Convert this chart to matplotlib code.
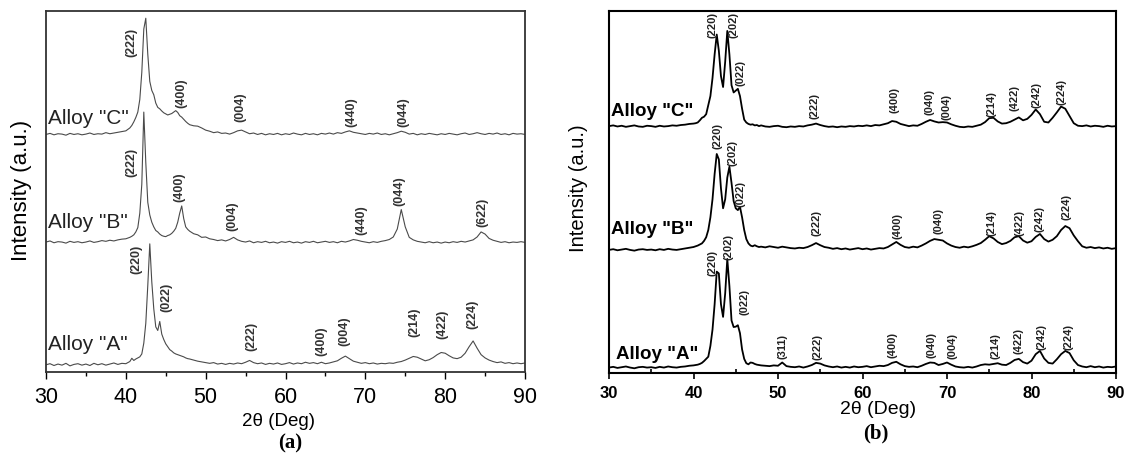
import numpy as np
import matplotlib
matplotlib.use("Agg")
import matplotlib.pyplot as plt
from matplotlib.ticker import MultipleLocator

plt.rcParams['font.family'] = ['Liberation Sans', 'DejaVu Sans']

# 2-theta sampling: 30-39.5 (0.5 step), 40-47.75 (0.25 step), 48-90 (0.5 step)
two_theta = np.concatenate([np.arange(30, 40, 0.5), np.arange(40, 48, 0.25), np.arange(48, 90.01, 0.5)])

# ---------------- panel (a): intensities, offset curves (a.u.) ----------------
a_alloy_c = [
    65.8, 66.1, 65.7, 66.0, 65.9, 65.6, 66.1, 65.8, 66.0, 65.7,
    65.9, 66.2, 65.8, 66.0, 65.9, 66.3, 66.0, 66.2, 66.4, 66.6,
    66.8, 67.2, 67.6, 68.3, 69.3, 70.5, 72.0, 75.5, 83.0, 95.0,
    98.0, 88.0, 80.5, 78.0, 76.8, 74.5, 73.3, 72.9, 72.3, 71.8,
    71.5, 71.2, 71.4, 71.6, 72.0, 72.4, 71.9, 71.0, 70.6, 70.0,
    69.4, 68.9,
    68.5, 68.2, 68.1, 67.6, 67.0, 66.7, 66.3, 66.5, 66.1, 66.2,
    65.9, 66.3, 66.8, 67.0, 66.5, 66.0, 66.2, 65.8, 66.1, 65.7,
    66.0, 65.8, 66.1, 65.7, 66.0, 65.8, 66.2, 65.9, 65.7, 66.1,
    65.8, 66.0, 65.7, 66.1, 65.9, 66.2, 65.9, 66.3, 66.1, 66.5,
    66.8, 66.4, 66.2, 66.0, 65.8, 66.1, 65.9, 66.2, 65.8, 66.0,
    65.7, 66.0, 66.3, 66.7, 66.4, 65.9, 66.1, 65.7, 66.0, 65.8,
    66.1, 65.9, 65.7, 66.0, 65.8, 66.1, 65.9, 65.7, 66.0, 66.2,
    65.8, 66.0, 66.3, 66.0, 65.8, 66.1, 65.9, 66.2, 65.8, 66.0,
    65.7, 66.1, 65.9, 66.0, 65.8,
]
a_alloy_b = [
    36.0, 36.3, 35.8, 36.1, 36.0, 35.7, 36.2, 35.9, 36.1, 35.8,
    36.0, 36.3, 35.9, 36.1, 36.4, 36.2, 36.5, 36.3, 36.6, 36.8,
    36.9, 37.1, 37.3, 37.6, 38.0, 38.8, 40.0, 44.0, 52.0, 72.0,
    58.0, 47.0, 43.5, 41.5, 40.2, 39.2, 38.8, 38.2, 37.8, 37.6,
    37.5, 37.8, 38.0, 38.4, 39.0, 39.8, 41.5, 44.0, 46.0, 42.5,
    40.2, 39.5,
    39.0, 38.3, 38.0, 37.3, 37.4, 36.9, 36.7, 36.4, 36.6, 36.3,
    36.7, 37.3, 36.6, 36.2, 36.0, 36.3, 35.8, 36.1, 35.9, 36.2,
    35.8, 36.0, 35.7, 36.1, 35.9, 36.2, 35.8, 36.0, 35.7, 36.1,
    35.9, 36.2, 35.8, 36.0, 36.2, 35.9, 36.1, 35.8, 36.2, 36.0,
    36.3, 36.7, 36.5, 36.2, 36.0, 35.8, 36.1, 35.9, 36.2, 36.4,
    36.7, 37.4, 39.6, 45.0, 40.2, 37.3, 36.6, 36.2, 36.0, 35.8,
    36.1, 35.8, 36.0, 35.7, 36.0, 35.8, 36.1, 35.9, 36.2, 36.0,
    36.3, 36.6, 37.4, 38.8, 38.2, 37.0, 36.5, 36.2, 35.9, 36.1,
    35.8, 36.0, 35.9, 36.1, 35.9,
]
a_alloy_a = [
    2.0, 2.3, 1.8, 2.2, 1.9, 2.4, 1.7, 2.1, 2.3, 1.9,
    2.2, 1.8, 2.4, 2.0, 2.3, 1.9, 2.2, 2.5, 2.1, 2.4,
    2.3, 2.6, 2.9, 3.8, 3.2, 3.6, 3.9, 4.2, 5.0, 8.0,
    13.5, 24.0, 35.5, 25.0, 17.5, 12.5, 11.5, 14.0, 10.5, 9.0,
    7.8, 7.0, 6.2, 5.8, 5.3, 5.0, 4.8, 4.6, 4.4, 4.2,
    3.9, 3.7,
    3.6, 3.3, 3.0, 2.8, 2.6, 2.4, 2.6, 2.2, 2.4, 2.1,
    2.4, 2.2, 2.5, 2.3, 2.7, 3.2, 2.6, 2.3, 2.5, 2.1,
    2.4, 2.2, 2.5, 2.1, 2.3, 2.6, 2.2, 2.5, 2.3, 2.7,
    2.4, 2.6, 2.3, 2.7, 2.3, 2.5, 2.8, 3.1, 3.8, 4.4,
    3.7, 3.0, 2.7, 2.4, 2.6, 2.3, 2.5, 2.2, 2.4, 2.3,
    2.5, 2.4, 2.7, 2.9, 3.3, 3.8, 4.3, 4.1, 3.6, 3.1,
    3.4, 4.0, 4.8, 5.4, 5.2, 4.5, 3.9, 3.7, 4.1, 5.2,
    7.0, 8.6, 6.6, 4.8, 3.9, 3.3, 2.9, 2.6, 2.8, 2.4,
    2.6, 2.3, 2.5, 2.3, 2.5,
]

# ---------------- panel (b) ----------------
b_alloy_c = [
    68.2, 68.4, 68.1, 68.3, 68.0, 68.2, 68.4, 68.1, 68.0, 68.3,
    68.2, 68.0, 68.3, 68.1, 68.2, 68.4, 68.3, 68.5, 68.6, 68.8,
    68.9, 69.0, 69.2, 69.8, 70.5, 70.8, 71.5, 74.0, 76.5, 81.5,
    88.0, 93.5, 89.0, 82.0, 79.0, 86.0, 94.5, 88.0, 79.5, 77.5,
    78.0, 78.5, 76.5, 73.0, 70.0, 69.2, 68.8, 68.6, 68.7, 68.4,
    68.5, 68.2,
    68.4, 68.1, 68.0, 68.2, 68.3, 68.0, 67.9, 68.1, 68.0, 68.2,
    68.1, 68.4, 68.6, 68.9, 68.5, 68.2, 68.0, 68.1, 67.9, 68.1,
    68.0, 68.2, 68.1, 68.3, 68.2, 68.4, 68.2, 68.5, 68.4, 68.7,
    69.0, 69.6, 69.4, 68.8, 68.5, 68.2, 68.4, 68.3, 68.8, 69.4,
    69.9, 69.5, 69.2, 69.3, 69.2, 68.7, 68.3, 68.0, 67.9, 68.1,
    68.0, 68.3, 68.6, 69.3, 70.4, 70.5, 69.5, 68.9, 69.0, 69.4,
    70.0, 70.6, 69.8, 70.2, 71.3, 72.8, 71.5, 69.4, 69.2, 70.5,
    72.0, 73.6, 73.0, 71.0, 69.0, 68.3, 68.2, 68.4, 68.1, 68.3,
    68.2, 68.0, 68.3, 68.1, 68.2,
]
b_alloy_b = [
    34.0, 34.2, 33.9, 34.1, 34.3, 34.0, 33.8, 34.1, 34.2, 34.0,
    34.1, 33.9, 34.2, 34.0, 34.3, 34.1, 34.0, 34.2, 34.4, 34.6,
    34.8, 35.0, 35.2, 35.5, 35.8, 36.5, 37.5, 39.5, 43.0, 48.0,
    55.0, 60.5, 59.0, 51.0, 45.5, 48.0, 54.0, 57.0, 52.5, 47.5,
    45.5, 45.0, 45.9, 43.0, 39.5, 37.0, 35.8, 35.2, 35.0, 35.3,
    35.0, 34.8,
    34.9, 34.7, 35.0, 34.8, 34.6, 34.9, 34.7, 34.5, 34.4, 34.6,
    34.5, 34.8, 35.3, 35.9, 35.3, 34.8, 34.6, 34.3, 34.5, 34.2,
    34.4, 34.1, 34.3, 34.5, 34.2, 34.4, 34.1, 34.3, 34.5, 34.4,
    34.8, 35.5, 36.2, 35.4, 34.8, 34.6, 34.9, 34.7, 35.2, 35.8,
    36.5, 37.0, 36.8, 36.6, 35.8, 35.2, 34.8, 34.6, 34.9, 34.7,
    35.0, 35.4, 35.9, 36.8, 37.8, 37.2, 36.2, 35.6, 35.9, 36.5,
    37.5, 37.8, 36.6, 36.0, 36.4, 37.6, 38.4, 37.0, 36.3, 36.8,
    37.8, 39.5, 40.6, 40.0, 38.0, 36.4, 35.0, 34.6, 34.8, 34.5,
    34.7, 34.4, 34.6, 34.3, 34.5,
]
b_alloy_a = [
    1.5, 1.7, 1.4, 1.6, 1.8, 1.5, 1.3, 1.6, 1.7, 1.5,
    1.6, 1.4, 1.7, 1.5, 1.8, 1.6, 1.5, 1.7, 1.8, 2.0,
    2.1, 2.2, 2.3, 2.5, 2.8, 3.3, 3.9, 4.5, 7.5, 12.0,
    19.0, 28.0, 27.5, 19.0, 15.5, 22.0, 31.5, 24.0, 14.5, 12.7,
    12.8, 13.2, 11.0, 6.5, 3.9, 2.7, 2.4, 2.9, 2.8, 2.5,
    2.3, 2.2,
    2.1, 2.0, 1.9, 2.1, 2.0, 2.9, 1.9, 1.7, 1.6, 1.8,
    1.5, 1.8, 2.2, 2.8, 2.6, 2.1, 1.8, 1.6, 1.8, 1.5,
    1.7, 1.5, 1.8, 1.6, 1.7, 1.9, 1.6, 1.8, 2.0, 1.9,
    2.2, 2.8, 3.1, 2.4, 1.9, 1.7, 1.8, 1.6, 2.0, 2.5,
    2.9, 2.8, 2.2, 2.5, 2.9, 2.3, 1.8, 1.6, 1.5, 1.7,
    1.5, 1.8, 2.2, 2.4, 2.3, 2.5, 2.7, 2.3, 2.2, 2.8,
    3.6, 3.9, 3.0, 2.6, 3.4, 5.2, 6.1, 4.0, 2.8, 2.6,
    3.8, 5.2, 6.1, 5.5, 3.5, 2.2, 1.8, 1.6, 1.9, 1.6,
    1.8, 1.5, 1.7, 1.6, 1.8,
]

# peak labels: (hkl, 2theta, height of label centre)
a_peaks = [
    ('(222)', 40.75, 91.7), ('(400)', 47.0, 77.6), ('(004)', 54.4, 73.7),
    ('(440)', 68.25, 72.3), ('(044)', 74.75, 72.3),
    ('(222)', 40.75, 58.2), ('(400)', 46.75, 51.5), ('(004)', 53.4, 43.5),
    ('(440)', 69.5, 42.4), ('(044)', 74.25, 50.4), ('(622)', 84.6, 44.6),
    ('(220)', 41.35, 31.6), ('(022)', 45.1, 21.0), ('(222)', 55.75, 10.0),
    ('(400)', 64.5, 8.9), ('(004)', 67.4, 11.6), ('(214)', 76.1, 14.1),
    ('(422)', 79.6, 13.6), ('(224)', 83.4, 16.3),
]
b_peaks = [
    ('(220)', 42.3, 96.5), ('(202)', 44.7, 96.3), ('(022)', 45.6, 83.1),
    ('(222)', 54.3, 74.0), ('(400)', 63.8, 75.7), ('(040)', 67.9, 75.1),
    ('(004)', 69.9, 73.8), ('(214)', 75.3, 74.6), ('(422)', 78.0, 76.2),
    ('(242)', 80.6, 77.0), ('(224)', 83.6, 77.9),
    ('(220)', 42.8, 65.7), ('(202)', 44.6, 61.0), ('(022)', 45.6, 49.7),
    ('(222)', 54.6, 41.7), ('(400)', 64.1, 40.9), ('(040)', 69.0, 42.3),
    ('(214)', 75.3, 41.7), ('(422)', 78.6, 41.7), ('(242)', 81.0, 42.8),
    ('(224)', 84.2, 46.1),
    ('(220)', 42.2, 30.7), ('(202)', 44.2, 35.1), ('(022)', 46.0, 19.9),
    ('(311)', 50.5, 7.5), ('(222)', 54.7, 7.5), ('(400)', 63.6, 8.0),
    ('(040)', 68.2, 8.0), ('(004)', 70.6, 7.7), ('(214)', 75.7, 7.7),
    ('(422)', 78.5, 9.1), ('(242)', 81.2, 10.2), ('(224)', 84.4, 10.2),
]
alloy_names = ['Alloy "C"', 'Alloy "B"', 'Alloy "A"']
a_name_y = [70.6, 41.6, 7.8]
b_name_y = [72.4, 39.8, 5.5]

fig = plt.figure(figsize=(11.28, 4.64), dpi=100)
ax1 = fig.add_axes([46 / 1128, 91 / 464, 479 / 1128, 361 / 464])
ax2 = fig.add_axes([609 / 1128, 90 / 464, 507 / 1128, 362 / 464])

# panel (a)
for ys in (a_alloy_c, a_alloy_b, a_alloy_a):
    ax1.plot(two_theta, ys, color='#4a4a4a', lw=0.8)
for lab, x, y in a_peaks:
    ax1.text(x, y, lab, rotation=90, ha='center', va='center',
             fontsize=9, fontweight='bold', color='#333333')
for name, y in zip(alloy_names, a_name_y):
    ax1.text(30.3, y, name, ha='left', va='center', fontsize=15, color='#222222')
ax1.set_xlim(30, 90)
ax1.set_ylim(0, 100)
ax1.set_yticks([])
ax1.xaxis.set_major_locator(MultipleLocator(10))
ax1.xaxis.set_minor_locator(MultipleLocator(5))
ax1.tick_params(axis='x', which='major', direction='out', length=5, width=1,
                labelsize=15.5, pad=5)
ax1.tick_params(axis='x', which='minor', direction='out', length=3, width=1)
for s in ax1.spines.values():
    s.set_linewidth(1.3)
    s.set_color('#333333')

# panel (b)
for ys in (b_alloy_c, b_alloy_b, b_alloy_a):
    ax2.plot(two_theta, ys, color='black', lw=1.3)
for lab, x, y in b_peaks:
    ax2.text(x, y, lab, rotation=90, ha='center', va='center',
             fontsize=8, fontweight='bold', color='#222222')
for name, y in zip(alloy_names, b_name_y):
    ax2.text(30.2 if name != 'Alloy "A"' else 30.8, y, name, ha='left', va='center',
             fontsize=13.5, fontweight='bold')
ax2.set_xlim(30, 90)
ax2.set_ylim(0, 100)
ax2.set_yticks([])
ax2.xaxis.set_major_locator(MultipleLocator(10))
ax2.xaxis.set_minor_locator(MultipleLocator(5))
ax2.tick_params(axis='x', which='major', direction='out', length=4, width=1.2,
                labelsize=12, pad=5)
ax2.tick_params(axis='x', which='minor', direction='in', length=3, width=1.2)
for t in ax2.get_xticklabels():
    t.set_fontweight('bold')
for s in ax2.spines.values():
    s.set_linewidth(1.5)

# axis titles and panel letters
fig.text(22 / 1128, 1 - 190 / 464, 'Intensity (a.u.)', rotation=90, ha='center',
         va='center', fontsize=16)
fig.text(578 / 1128, 1 - 188 / 464, 'Intensity (a.u.)', rotation=90, ha='center',
         va='center', fontsize=14.5)
fig.text(278 / 1128, 1 - 422 / 464, '2θ (Deg)', ha='center', va='center', fontsize=13.5)
fig.text(878 / 1128, 1 - 410 / 464, '2θ (Deg)', ha='center', va='center', fontsize=14)
fig.text(290 / 1128, 1 - 443 / 464, '(a)', ha='center', va='center', fontsize=15,
         fontweight='bold', family=['Liberation Serif', 'DejaVu Serif'])
fig.text(876 / 1128, 1 - 433 / 464, '(b)', ha='center', va='center', fontsize=15,
         fontweight='bold', family=['Liberation Serif', 'DejaVu Serif'])

fig.savefig('out.png', dpi=100)
